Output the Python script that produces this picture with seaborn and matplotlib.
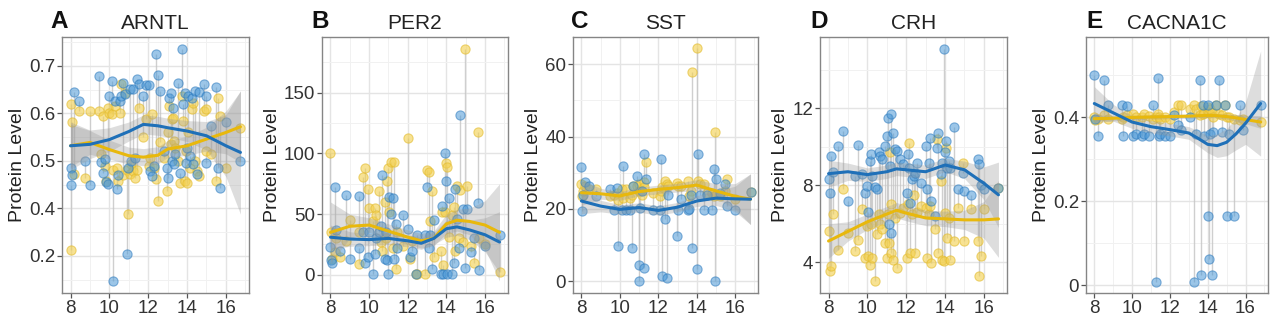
import numpy as np
import matplotlib
matplotlib.use("Agg")
import matplotlib.pyplot as plt
import seaborn as sns
from matplotlib.ticker import FixedLocator

# ---------------- data ----------------
titles = ["ARNTL", "PER2", "SST", "CRH", "CACNA1C"]
letters = ["A", "B", "C", "D", "E"]
x_ticks = [8, 10, 12, 14, 16]

# Panel A  (ARNTL)
a_x = [8.00, 8.03, 8.05, 8.20, 8.45, 8.77, 9.00, 9.45, 9.55, 9.65, 9.75, 9.85, 9.95, 10.00, 10.15, 10.20,
       10.30, 10.40, 10.45, 10.55, 10.60, 10.70, 10.80, 10.90, 10.95, 11.05, 11.10, 11.20, 11.30, 11.40,
       11.50, 11.75, 11.90, 12.05, 12.10, 12.20, 12.30, 12.40, 12.50, 12.60, 12.80, 12.95, 13.00, 13.05,
       13.15, 13.20, 13.30, 13.35, 13.40, 13.55, 13.65, 13.73, 13.80, 13.90, 13.95, 14.00, 14.05, 14.15,
       14.25, 14.30, 14.40, 14.50, 14.60, 14.85, 14.95, 15.00, 15.25, 15.50, 15.60, 15.70, 16.00, 16.75]
a_blue = [0.486, 0.450, 0.470, 0.646, 0.627, 0.500, 0.450, 0.679, 0.498, 0.475, 0.504, 0.455, 0.452, 0.637,
          0.668, 0.247, 0.626, 0.442, 0.470, 0.626, 0.637, 0.665, 0.640, 0.304, 0.486, 0.651, 0.500, 0.651,
          0.507, 0.672, 0.661, 0.637, 0.660, 0.660, 0.479, 0.468, 0.490, 0.725, 0.681, 0.647, 0.520, 0.486,
          0.465, 0.633, 0.644, 0.500, 0.612, 0.493, 0.514, 0.665, 0.475, 0.735, 0.619, 0.644, 0.496, 0.528,
          0.637, 0.510, 0.633, 0.493, 0.647, 0.472, 0.646, 0.661, 0.496, 0.637, 0.574, 0.656, 0.486, 0.444,
          0.581, 0.500]
a_yellow = [0.619, 0.312, 0.581, 0.472, 0.605, 0.465, 0.605, 0.605, 0.514, 0.595, 0.490, 0.458, 0.612, 0.600,
            0.598, 0.480, 0.616, 0.486, 0.458, 0.600, 0.661, 0.470, 0.644, 0.480, 0.388, 0.472, 0.493, 0.479,
            0.465, 0.480, 0.612, 0.550, 0.588, 0.490, 0.507, 0.598, 0.486, 0.461, 0.416, 0.540, 0.507, 0.437,
            0.560, 0.616, 0.535, 0.588, 0.591, 0.542, 0.528, 0.500, 0.454, 0.637, 0.584, 0.458, 0.520, 0.454,
            0.560, 0.486, 0.609, 0.623, 0.500, 0.479, 0.468, 0.605, 0.520, 0.609, 0.514, 0.458, 0.633, 0.595,
            0.486, 0.570]
a_sx = [8, 9, 10, 11, 11.75, 12.5, 13, 14, 15, 16, 16.75]
a_sblue = [0.532, 0.535, 0.545, 0.562, 0.577, 0.574, 0.570, 0.563, 0.553, 0.532, 0.518]
a_sblue_w = [0.050, 0.030, 0.025, 0.020, 0.020, 0.020, 0.020, 0.022, 0.030, 0.065, 0.130]
a_syellow = [0.532, 0.539, 0.524, 0.511, 0.508, 0.512, 0.525, 0.532, 0.546, 0.560, 0.572]
a_syellow_w = [0.045, 0.025, 0.020, 0.018, 0.018, 0.018, 0.018, 0.020, 0.025, 0.045, 0.075]
a_yticks = [0.3, 0.4, 0.5, 0.6, 0.7]
a_ylabels = ["0.2", "0.4", "0.5", "0.6", "0.7"]

# Panel B  (PER2)
b_x = [8.0, 8.05, 8.1, 8.25, 8.3, 8.5, 8.8, 9.0, 9.45, 9.5, 9.7, 9.8, 9.95, 10.0, 10.2, 10.3, 10.35, 10.5,
       10.6, 10.65, 10.8, 10.85, 10.95, 11.0, 11.05, 11.15, 11.25, 11.3, 11.4, 11.45, 11.75, 12.0, 12.1,
       12.2, 12.45, 12.5, 12.9, 13.0, 13.1, 13.15, 13.25, 13.35, 13.7, 13.75, 13.8, 13.95, 14.0, 14.05,
       14.15, 14.3, 14.4, 14.45, 14.55, 14.65, 14.7, 14.85, 14.95, 15.05, 15.3, 15.45, 15.65, 15.7, 16.0, 16.75]
b_blue = [23, 12, 10, 72, 37, 20, 66, 13, 22, 65, 35, 10, 15, 35, 1, 17, 30, 35, 40, 82, 13, 35, 12, 1,
          64, 50, 63, 13, 42, 22, 49, 38, 15, 20, 1, 33, 33, 72, 22, 33, 5, 45, 1, 57, 1, 100, 77, 1, 63, 1,
          10, 71, 46, 22, 132, 54, 6, 54, 19, 30, 59, 4, 24, 33]
b_yellow = [100, 35, 13, 19, 30, 15, 28, 45, 9, 35, 81, 88, 71, 55, 44, 55, 49, 69, 27, 20, 60, 30, 77, 88,
            52, 93, 22, 93, 5, 35, 24, 113, 13, 28, 1, 1, 1, 86, 85, 44, 69, 15, 20, 52, 8, 52, 92, 89, 31,
            49, 56, 20, 73, 30, 70, 27, 186, 73, 24, 10, 118, 30, 25, 2]
b_sx = [8, 9, 10, 11, 12, 12.7, 13.35, 14, 14.55, 15.2, 16, 16.75]
b_sblue = [31, 29.5, 29, 30, 28, 26, 30, 38, 39.5, 37, 33, 27]
b_sblue_w = [10, 6, 5, 5, 5, 5, 5, 7, 7, 8, 14, 25]
b_syellow = [35, 40, 41, 36, 31, 28, 30, 42, 45, 44, 41, 35]
b_syellow_w = [25, 10, 6, 6, 6, 6, 6, 8, 9, 11, 20, 40]
b_yticks = [0, 50, 100, 150]
b_ylabels = ["0", "50", "100", "150"]

# Panel C  (SST)
c_x = [8.0, 8.02, 8.1, 8.2, 8.4, 8.75, 9.5, 9.7, 9.85, 9.9, 10.1, 10.15, 10.3, 10.55, 10.65, 10.7, 10.9,
       11.0, 11.02, 11.05, 11.15, 11.25, 11.28, 11.35, 11.75, 12.1, 12.15, 12.2, 12.35, 12.45, 12.5, 12.95,
       13.05, 13.2, 13.55, 13.6, 13.7, 13.75, 14.0, 14.05, 14.15, 14.4, 14.55, 14.8, 14.9, 14.95, 15.0,
       15.2, 15.45, 15.6, 16.0, 16.8]
c_blue = [31.5, 19.4, 24, 27.5, 26.4, 23.6, 25.6, 19.7, 25.9, 9.9, 19.7, 31.8, 19.7, 19.7, 9.1, 26.4, 29.2,
          4.6, 0, 20.4, 25, 35.2, 3.7, 28.2, 19.7, 19.7, 33.8, 1.4, 17.1, 0.9, 24, 12.5, 19.7, 22.7, 19.7,
          19.9, 24, 9.1, 3.4, 35.2, 24, 19.7, 24, 19.7, 31, 0, 28.4, 24.5, 26.9, 20.8, 19.7, 24.7]
c_yellow = [26.9, 23.6, 25, 26.4, 25.5, 25.5, 23.6, 24, 24.5, 22.5, 25.5, 23.1, 25.5, 23.1, 24, 26.4, 26.4,
            25, 27, 25, 24, 27.5, 26, 33.1, 24.5, 23.6, 25, 26, 27.8, 27, 26.4, 27.3, 26.4, 26.4, 27.8,
            23.6, 25, 57.7, 64.4, 27.8, 26.9, 26.9, 24.5, 24.5, 23.6, 41.2, 24, 23.6, 25, 28.2, 22.7, 24.7]
c_sx = [8, 9, 10, 11, 12, 13, 14, 15, 16, 16.8]
c_sblue = [22.2, 20.8, 19.9, 20.4, 19.6, 20.5, 22.2, 23.0, 22.8, 22.7]
c_sblue_w = [3.5, 1.6, 1.3, 1.3, 1.3, 1.3, 1.5, 2.0, 3.5, 7.0]
c_syellow = [24.5, 24.2, 23.6, 24.8, 25.4, 25.9, 26.6, 25.0, 23.5, 22.7]
c_syellow_w = [3.5, 1.5, 1.2, 1.2, 1.2, 1.2, 1.5, 2.0, 3.5, 7.0]
c_yticks = [0, 20, 40, 60]
c_ylabels = ["0", "20", "40", "60"]

# Panel D  (CRH)
d_x = [8.0, 8.05, 8.15, 8.25, 8.5, 8.75, 9.0, 9.35, 9.5, 9.7, 9.9, 9.98, 10.05, 10.15, 10.18, 10.25, 10.4,
       10.5, 10.6, 10.65, 10.75, 10.9, 11.0, 11.05, 11.1, 11.15, 11.2, 11.22, 11.3, 11.4, 11.5, 11.7, 11.85,
       12.05, 12.1, 12.15, 12.2, 12.3, 12.4, 12.45, 12.55, 12.75, 13.0, 13.05, 13.15, 13.25, 13.3, 13.5,
       13.6, 13.65, 13.8, 13.85, 13.95, 14.0, 14.05, 14.1, 14.2, 14.25, 14.45, 14.65, 14.9, 15.0, 15.35,
       15.7, 15.75, 15.85, 16.0, 16.75]
d_blue = [8.34, 7.6, 9.5, 8.7, 10.04, 10.82, 7.17, 8.5, 10.07, 8.56, 7.6, 7.95, 6.6, 9.25, 9.6, 8.47, 7.9,
          7.78, 9.7, 9.5, 9.35, 10.04, 10.56, 11.51, 5.96, 9.0, 5.52, 11.69, 10.73, 9.86, 9.78, 9.35, 9.08,
          7.6, 9.6, 8.9, 7.1, 8.3, 8.5, 8.65, 9.17, 8.13, 10.04, 7.78, 9.17, 10.47, 7.17, 6.4, 9.95, 10.73,
          8.56, 9.17, 15.07, 9.7, 10.3, 8.9, 9.25, 8.9, 11.0, 7.78, 8.65, 7.7, 7.5, 9.35, 9.08, 8.0, 7.78, 7.87]
d_yellow = [5.6, 3.52, 3.79, 6.48, 4.65, 7.78, 5.5, 4.57, 5.17, 6.74, 4.22, 5.87, 4.3, 3.88, 6.0, 4.22, 3.0,
            5.44, 6.48, 6.0, 5.7, 5.0, 4.22, 6.5, 5.0, 9.7, 4.5, 7.0, 4.13, 6.3, 3.7, 6.57, 6.8, 4.22, 7.0,
            10.2, 4.48, 6.5, 7.5, 4.48, 6.6, 6.9, 6.83, 4.22, 6.5, 6.9, 3.96, 5.7, 10.39, 4.48, 8.2, 4.13,
            4.05, 6.57, 9.95, 5.26, 6.3, 4.13, 5.1, 6.83, 9.17, 5.1, 6.74, 5.1, 3.27, 4.3, 6.74, 7.87]
d_sx = [8, 9, 10, 11, 11.5, 12, 13, 14, 15, 16, 16.75]
d_sblue = [8.6, 8.7, 8.55, 8.7, 8.85, 8.8, 8.7, 9.05, 8.8, 8.1, 7.5]
d_sblue_w = [0.7, 0.45, 0.35, 0.35, 0.35, 0.35, 0.35, 0.35, 0.45, 0.85, 1.7]
d_syellow = [5.1, 5.6, 6.1, 6.5, 6.7, 6.55, 6.3, 6.25, 6.2, 6.2, 6.25]
d_syellow_w = [0.9, 0.5, 0.4, 0.4, 0.4, 0.4, 0.4, 0.4, 0.5, 0.95, 2.0]
d_yticks = [4, 8, 12]
d_ylabels = ["4", "8", "12"]

# Panel E  (CACNA1C)
e_x = [8.0, 8.02, 8.2, 8.5, 8.75, 9.45, 9.5, 9.75, 10.05, 10.2, 10.5, 10.65, 10.9, 11.1, 11.25, 11.35, 11.4,
       11.5, 11.75, 12.0, 12.2, 12.45, 12.6, 13.05, 13.25, 13.4, 13.6, 13.65, 13.75, 13.8, 14.0, 14.02,
       14.05, 14.1, 14.25, 14.3, 14.45, 14.6, 14.75, 14.9, 15.0, 15.15, 15.4, 15.7, 15.85, 16.8]
e_blue = [0.499, 0.396, 0.356, 0.487, 0.428, 0.428, 0.356, 0.426, 0.356, 0.360, 0.356, 0.360, 0.356, 0.429,
          0.008, 0.493, 0.356, 0.360, 0.356, 0.356, 0.404, 0.380, 0.368, 0.400, 0.008, 0.360, 0.487, 0.025,
          0.428, 0.356, 0.428, 0.166, 0.063, 0.360, 0.024, 0.364, 0.428, 0.487, 0.364, 0.428, 0.165, 0.360,
          0.165, 0.428, 0.368, 0.429]
e_yellow = [0.400, 0.392, 0.395, 0.404, 0.396, 0.396, 0.400, 0.404, 0.408, 0.400, 0.400, 0.408, 0.402, 0.396,
            0.400, 0.408, 0.400, 0.396, 0.400, 0.396, 0.412, 0.428, 0.429, 0.420, 0.429, 0.420, 0.404, 0.426,
            0.408, 0.410, 0.424, 0.412, 0.410, 0.420, 0.412, 0.400, 0.429, 0.408, 0.404, 0.428, 0.400, 0.400,
            0.396, 0.392, 0.395, 0.387]
e_sx = [8, 9, 10, 11, 12, 13, 13.5, 14, 14.5, 15, 15.5, 16, 16.8]
e_sblue = [0.432, 0.410, 0.388, 0.377, 0.370, 0.362, 0.349, 0.335, 0.332, 0.340, 0.360, 0.385, 0.432]
e_sblue_w = [0.040, 0.020, 0.015, 0.015, 0.015, 0.015, 0.018, 0.020, 0.028, 0.032, 0.038, 0.050, 0.125]
e_syellow = [0.396, 0.397, 0.399, 0.400, 0.401, 0.402, 0.403, 0.404, 0.403, 0.401, 0.398, 0.394, 0.388]
e_syellow_w = [0.010, 0.006, 0.005, 0.005, 0.005, 0.005, 0.005, 0.005, 0.005, 0.006, 0.008, 0.010, 0.015]
e_yticks = [0, 0.2, 0.4]
e_ylabels = ["0", "0.2", "0.4"]

# ---------------- style ----------------
sns.set_theme(style="white")
plt.rcParams['font.family'] = ['Liberation Sans', 'DejaVu Sans']

BLUE_PT = '#4b98d6'
BLUE_EDGE = '#2a78bd'
YELLOW_PT = '#f3cf4c'
YELLOW_EDGE = '#e3bb2c'
BLUE_LN = '#1f70b8'
YELLOW_LN = '#e8b80c'
SEG = '#c4c4c4'
BAND = '#999999'

panels = [
    (a_x, a_blue, a_yellow, a_sx, a_sblue, a_sblue_w, a_syellow, a_syellow_w, a_yticks, a_ylabels, (0.222, 0.761)),
    (b_x, b_blue, b_yellow, b_sx, b_sblue, b_sblue_w, b_syellow, b_syellow_w, b_yticks, b_ylabels, (-15, 196)),
    (c_x, c_blue, c_yellow, c_sx, c_sblue, c_sblue_w, c_syellow, c_syellow_w, c_yticks, c_ylabels, (-3.2, 67.5)),
    (d_x, d_blue, d_yellow, d_sx, d_sblue, d_sblue_w, d_syellow, d_syellow_w, d_yticks, d_ylabels, (2.4, 15.7)),
    (e_x, e_blue, e_yellow, e_sx, e_sblue, e_sblue_w, e_syellow, e_syellow_w, e_yticks, e_ylabels, (-0.018, 0.59)),
]

W, H = 1280, 321
ax_px = [(62, 249), (322, 508), (573, 758), (820, 1007), (1086, 1268)]
ax_top, ax_bot = 37, 293
letter_px = [50, 311, 571, 810, 1086]

fig = plt.figure(figsize=(W / 100, H / 100), dpi=100)
fig.patch.set_facecolor('white')

for i, (x, bl, ye, sx, sb, sbw, sy, syw, yt, yl, ylim) in enumerate(panels):
    l, r = ax_px[i]
    ax = fig.add_axes([l / W, 1 - ax_bot / H, (r - l) / W, (ax_bot - ax_top) / H])
    ax.set_facecolor('white')
    x = np.asarray(x); bl = np.asarray(bl); ye = np.asarray(ye)
    sx = np.asarray(sx); sb = np.asarray(sb); sbw = np.asarray(sbw)
    sy = np.asarray(sy); syw = np.asarray(syw)

    # paired segments
    ax.vlines(x, np.minimum(bl, ye), np.maximum(bl, ye), color=SEG, lw=1.0, alpha=0.8, zorder=1)
    # points
    sns.scatterplot(x=x, y=ye, color=YELLOW_PT, s=44, alpha=0.6, edgecolor=YELLOW_EDGE,
                    linewidth=0.8, ax=ax, zorder=2, legend=False)
    sns.scatterplot(x=x, y=bl, color=BLUE_PT, s=44, alpha=0.55, edgecolor=BLUE_EDGE,
                    linewidth=0.8, ax=ax, zorder=2, legend=False)
    # smooth bands + lines
    ax.fill_between(sx, sb - sbw, sb + sbw, color=BAND, alpha=0.33, lw=0, zorder=3)
    ax.fill_between(sx, sy - syw, sy + syw, color=BAND, alpha=0.33, lw=0, zorder=3)
    sns.lineplot(x=sx, y=sy, color=YELLOW_LN, lw=2.2, ax=ax, zorder=4)
    sns.lineplot(x=sx, y=sb, color=BLUE_LN, lw=2.2, ax=ax, zorder=4)

    ax.set_xlim(7.56, 17.19)
    ax.set_ylim(*ylim)
    ax.xaxis.set_major_locator(FixedLocator(x_ticks))
    ax.set_xticklabels([str(t) for t in x_ticks])
    ax.xaxis.set_minor_locator(FixedLocator([7, 9, 11, 13, 15, 17]))
    ax.yaxis.set_major_locator(FixedLocator(yt))
    ax.set_yticklabels(yl)
    step = yt[1] - yt[0]
    mids = [v + step / 2 for v in np.arange(yt[0] - 3 * step, yt[-1] + 3 * step, step)]
    ax.yaxis.set_minor_locator(FixedLocator(mids))

    ax.set_axisbelow(True)
    ax.grid(which='major', color='#e4e4e4', lw=1.0)
    ax.grid(which='minor', color='#f1f1f1', lw=0.7)
    ax.tick_params(which='major', direction='out', length=3.5, width=0.9, color='#555555',
                   labelsize=13.5, labelcolor='#333333', pad=1.5, bottom=True, left=True)
    ax.tick_params(which='minor', length=0)
    for sp in ax.spines.values():
        sp.set_color('#858585')
        sp.set_linewidth(1.0)
    ax.set_xlabel('')
    ax.set_ylabel('Protein Level', fontsize=14, color='#222222', labelpad=2)
    ax.set_title(titles[i], fontsize=15, color='#222222', pad=6)
    fig.text(letter_px[i] / W, 1 - 28 / H, letters[i], fontsize=17.5, fontweight='bold',
             color='#111111', ha='left', va='baseline')

fig.savefig('out.png', dpi=100, facecolor='white')
